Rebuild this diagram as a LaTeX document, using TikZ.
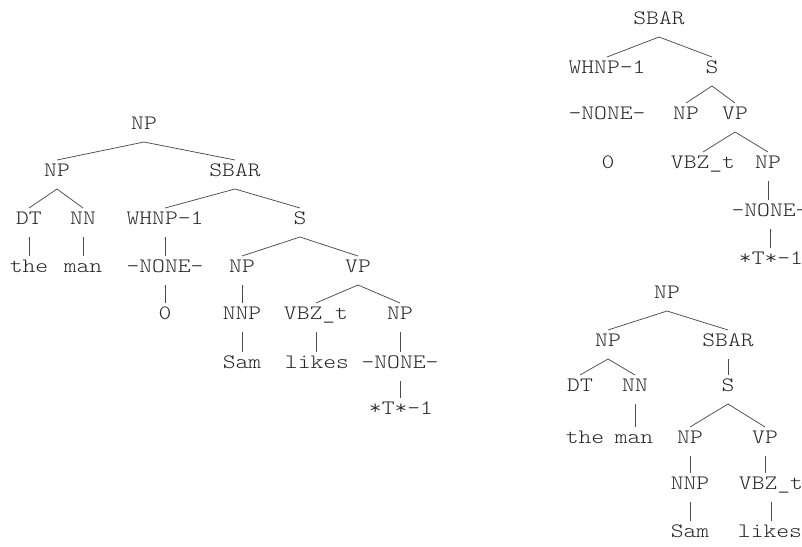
\documentclass[tikz,border=0pt]{standalone}
\usepackage{fontspec}
\setmonofont{lmmonolt10-regular.otf}[FakeStretch=1.19]
\usetikzlibrary{calc}
\tikzset{
  tn/.style={anchor=base, inner sep=0pt, outer sep=0pt, font=\ttfamily\fontsize{20.5}{22}\selectfont, text=black!85},
  tl/.style={draw=black!70, line width=0.75pt}
}
\newcommand\treeedge[2]{\draw[tl] let \p1=(#1.base), \p2=(#2.base) in (\x1,\y1-13pt) -- (\x2,\y2+16pt);}
\newcommand\treevedge[2]{\draw[tl] let \p1=(#1.base), \p2=(#2.base) in (\x1,\y1-13pt) -- (\x1,\y2+16pt);}
\begin{document}
\begin{tikzpicture}[x=1pt,y=-1pt]
\useasboundingbox (0,0) rectangle (802,546);
% ---- left tree ----
\node[tn] (L0) at (144,129) {NP};
\node[tn] (L1) at (57,176) {NP};
\node[tn] (L2) at (235,176) {SBAR};
\node[tn] (L3) at (29,224) {DT};
\node[tn] (L4) at (83,224) {NN};
\node[tn] (L5) at (165,224) {WHNP-1};
\node[tn] (L6) at (300,224) {S};
\node[tn] (L7) at (29,272) {the};
\node[tn] (L8) at (83,272) {man};
\node[tn] (L9) at (165,272) {-NONE-};
\node[tn] (L10) at (242,272) {NP};
\node[tn] (L11) at (358,272) {VP};
\node[tn] (L12) at (165,319) {0};
\node[tn] (L13) at (242,319) {NNP};
\node[tn] (L14) at (316,319) {VBZ\_t};
\node[tn] (L15) at (400,319) {NP};
\node[tn] (L16) at (242,368) {Sam};
\node[tn] (L17) at (317,368) {likes};
\node[tn] (L18) at (400,368) {-NONE-};
\node[tn] (L19) at (401,414) {*T*-1};
\treeedge{L0}{L1}
\treeedge{L0}{L2}
\treeedge{L1}{L3}
\treeedge{L1}{L4}
\treeedge{L2}{L5}
\treeedge{L2}{L6}
\treevedge{L3}{L7}
\treevedge{L4}{L8}
\treevedge{L5}{L9}
\treeedge{L6}{L10}
\treeedge{L6}{L11}
\treevedge{L9}{L12}
\treevedge{L10}{L13}
\treeedge{L11}{L14}
\treeedge{L11}{L15}
\treevedge{L13}{L16}
\treevedge{L14}{L17}
\treevedge{L15}{L18}
\treevedge{L18}{L19}
% ---- right top tree ----
\node[tn] (R0) at (659,24) {SBAR};
\node[tn] (R1) at (607,73) {WHNP-1};
\node[tn] (R2) at (712,73) {S};
\node[tn] (R3) at (607,119) {-NONE-};
\node[tn] (R4) at (686,119) {NP};
\node[tn] (R5) at (735,119) {VP};
\node[tn] (R6) at (608,168) {0};
\node[tn] (R7) at (703,168) {VBZ\_t};
\node[tn] (R8) at (768,168) {NP};
\node[tn] (R9) at (770,216) {-NONE-};
\node[tn] (R10) at (771,264) {*T*-1};
\treeedge{R0}{R1}
\treeedge{R0}{R2}
\treeedge{R2}{R4}
\treeedge{R2}{R5}
\treeedge{R5}{R7}
\treeedge{R5}{R8}
\treevedge{R8}{R9}
\treevedge{R9}{R10}
% ---- right bottom tree ----
\node[tn] (B0) at (667,298) {NP};
\node[tn] (B1) at (608,346) {NP};
\node[tn] (B2) at (728,346) {SBAR};
\node[tn] (B3) at (580,391) {DT};
\node[tn] (B4) at (635,391) {NN};
\node[tn] (B5) at (728,391) {S};
\node[tn] (B6) at (585,443) {the};
\node[tn] (B7) at (634,443) {man};
\node[tn] (B8) at (690,443) {NP};
\node[tn] (B9) at (765,443) {VP};
\node[tn] (B10) at (690,489) {NNP};
\node[tn] (B11) at (771,489) {VBZ\_t};
\node[tn] (B12) at (690,537) {Sam};
\node[tn] (B13) at (770,537) {likes};
\treeedge{B0}{B1}
\treeedge{B0}{B2}
\treeedge{B1}{B3}
\treeedge{B1}{B4}
\treevedge{B2}{B5}
\treevedge{B4}{B7}
\treeedge{B5}{B8}
\treeedge{B5}{B9}
\treevedge{B8}{B10}
\treevedge{B9}{B11}
\treevedge{B10}{B12}
\treevedge{B11}{B13}
\end{tikzpicture}
\end{document}
